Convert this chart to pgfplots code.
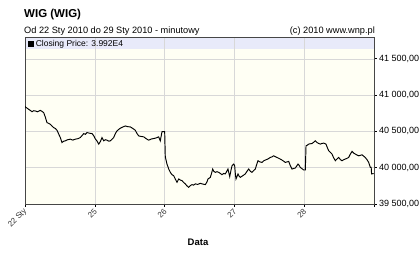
\documentclass[border=0pt]{standalone}
\usepackage{pgfplots}
\pgfplotsset{compat=1.18}
\usetikzlibrary{calc}
\usepackage{fontspec}
\setmainfont{Liberation Sans}
\definecolor{bgcream}{RGB}{255,255,244}
\definecolor{band}{RGB}{232,234,250}
\definecolor{gridc}{RGB}{216,216,216}
\definecolor{axc}{RGB}{70,70,70}
\begin{document}
\begin{tikzpicture}[x=1pt,y=1pt]
\begin{axis}[
  set layers,
  at={(0,0)}, anchor=south west,
  scale only axis, width=349pt, height=167pt,
  xmin=0, xmax=5, ymin=39500, ymax=41800,
  axis background/.style={fill=bgcream},
  axis line style={draw=axc, line width=0.8pt},
  grid=major, grid style={gridc, line width=0.5pt},
  xtick={0,1,2,3,4,5}, xticklabels={22 Sty,25,26,27,28,},
  xtick pos=bottom, xtick style={draw=black, line width=0.6pt},
  xticklabel style={yshift=-3pt, xshift=1.5pt, rotate=45, anchor=east, font=\fontsize{8}{9}\selectfont, text=black!80, inner sep=1pt},
  scaled y ticks=false,
  ytick={39500,40000,40500,41000,41500},
  yticklabels={{39 500,00},{40 000,00},{40 500,00},{41 000,00},{41 500,00}},
  ytick pos=right, tick align=outside, major tick length=2.5pt,
  ytick style={draw=black, line width=0.6pt},
  yticklabel style={font=\fontsize{9}{10}\selectfont, inner sep=1pt, xshift=1.5pt},
  legend style={at={(0,1)}, anchor=north west, draw=none, fill=none, font=\fontsize{8.5}{9}\selectfont, inner sep=0.5pt, xshift=2pt, yshift=-0.5pt, row sep=0pt},
  legend cell align=left,
  legend image code/.code={\fill[black] (0pt,-2.6pt) rectangle (5.2pt,2.6pt);},
]
\begin{pgfonlayer}{axis background}
\fill[band] (axis cs:0,41635) rectangle (axis cs:5,41800);
\end{pgfonlayer}
\addplot[black, line width=0.95pt, sharp plot] coordinates {
(0.000,40849) (0.005,40836) (0.030,40820) (0.053,40804) (0.075,40790) (0.100,40771)
(0.125,40785) (0.148,40781) (0.180,40770) (0.219,40790) (0.245,40775) (0.268,40758)
(0.290,40700) (0.315,40621) (0.340,40610) (0.362,40598) (0.390,40570) (0.411,40552)
(0.435,40540) (0.458,40516) (0.480,40470) (0.506,40415) (0.530,40347) (0.555,40365)
(0.577,40370) (0.610,40385) (0.649,40393) (0.685,40380) (0.721,40393) (0.760,40400)
(0.792,40415) (0.815,40440) (0.841,40470) (0.865,40460) (0.888,40484) (0.925,40475)
(0.960,40470) (0.985,40440) (1.005,40400) (1.030,40370) (1.056,40325) (1.080,40360)
(1.103,40415) (1.128,40370) (1.150,40385) (1.175,40379) (1.200,40365) (1.222,40370)
(1.245,40390) (1.270,40415) (1.295,40470) (1.318,40507) (1.340,40525) (1.365,40544)
(1.400,40560) (1.437,40575) (1.470,40565) (1.509,40562) (1.545,40540) (1.580,40516)
(1.605,40470) (1.629,40438) (1.665,40430) (1.701,40425) (1.735,40400) (1.772,40379)
(1.810,40395) (1.844,40402) (1.880,40410) (1.915,40425) (1.938,40370) (1.963,40497)
(2.001,40497) (2.010,40150) (2.034,40050) (2.060,39980) (2.082,39936) (2.105,39905)
(2.130,39890) (2.155,39840) (2.178,39799) (2.202,39845) (2.225,39830) (2.249,39822)
(2.275,39795) (2.297,39777) (2.320,39750) (2.345,39730) (2.370,39755) (2.393,39767)
(2.415,39760) (2.440,39777) (2.475,39770) (2.511,39785) (2.545,39775) (2.583,39767)
(2.605,39800) (2.622,39845) (2.655,39867) (2.675,39930) (2.689,39982) (2.705,39950)
(2.726,39936) (2.750,39945) (2.775,39936) (2.800,39920) (2.822,39904) (2.845,39920)
(2.870,39914) (2.890,39950) (2.908,39982) (2.920,39930) (2.933,39877) (2.950,39960)
(2.966,40027) (2.978,40040) (2.990,40050) (3.004,40027) (3.015,39900) (3.023,39845)
(3.052,39914) (3.070,39880) (3.085,39867) (3.120,39890) (3.156,39914) (3.180,39950)
(3.205,39982) (3.230,39950) (3.252,39936) (3.275,39960) (3.300,39982) (3.318,40040)
(3.338,40096) (3.365,40080) (3.395,40073) (3.420,40095) (3.443,40105) (3.480,40120)
(3.514,40141) (3.540,40150) (3.563,40164) (3.590,40150) (3.610,40141) (3.645,40125)
(3.682,40105) (3.705,40090) (3.729,40073) (3.755,40080) (3.778,40087) (3.800,40030)
(3.825,39982) (3.850,39990) (3.872,39995) (3.890,40020) (3.911,40050) (3.930,40030)
(3.944,40004) (3.970,39985) (3.993,39968) (4.016,39968) (4.026,40301) (4.045,40310)
(4.064,40325) (4.090,40330) (4.112,40333) (4.135,40350) (4.159,40370) (4.183,40347)
(4.205,40335) (4.231,40325) (4.255,40335) (4.280,40338) (4.312,40325) (4.330,40280)
(4.351,40233) (4.375,40210) (4.398,40188) (4.420,40140) (4.446,40096) (4.470,40120)
(4.494,40141) (4.520,40110) (4.542,40096) (4.565,40110) (4.589,40119) (4.615,40130)
(4.637,40141) (4.660,40185) (4.685,40224) (4.710,40200) (4.732,40188) (4.755,40175)
(4.780,40164) (4.805,40170) (4.828,40178) (4.850,40160) (4.875,40141) (4.900,40110)
(4.924,40073) (4.947,40004) (4.960,40004) (4.965,39914) (4.995,39920)
};
\addlegendentry{Closing Price: 3.992E4}
\coordinate (bl) at (rel axis cs:0,0);
\end{axis}
\node[anchor=base west,font=\bfseries\fontsize{11.5}{12}\selectfont,inner sep=0] at ($(bl)+(-1,186)$) {WIG (WIG)};
\node[anchor=base west,font=\fontsize{9.2}{10}\selectfont,inner sep=0] at ($(bl)+(-1,170.5)$) {Od 22 Sty 2010 do 29 Sty 2010 - minutowy};
\node[anchor=base east,font=\fontsize{9.2}{10}\selectfont,inner sep=0] at ($(bl)+(350,170.5)$) {(c) 2010 www.wnp.pl};
\node[anchor=center,font=\bfseries\fontsize{9.5}{10}\selectfont,inner sep=0] at ($(bl)+(173,-38)$) {Data};
\pgfresetboundingbox
\path[use as bounding box] ($(bl)+(-25,-48)$) rectangle ($(bl)+(395,204)$);
\end{tikzpicture}
\end{document}
